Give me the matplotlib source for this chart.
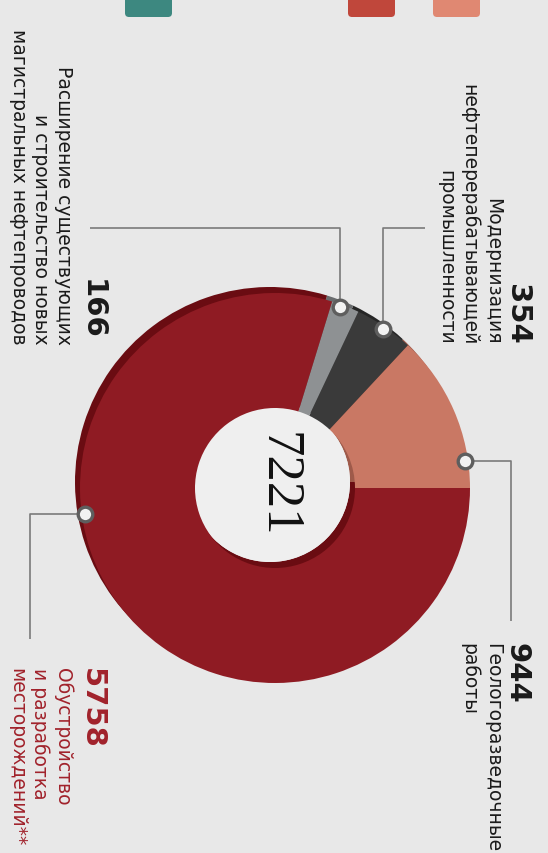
import numpy as np
import matplotlib.pyplot as plt
from matplotlib.patches import Circle, FancyBboxPatch

# Chart data (pie order: counter-clockwise from 3 o'clock)
labels = ['Геологоразведочные\nработы',
          'Модернизация\nнефтеперерабатывающей\nпромышленности',
          'Расширение существующих\nи строительство новых\nмагистральных нефтепроводов',
          'Обустройство\nи разработка\nместорождений**']
values = [944, 354, 166, 5758]
total_label = '7221'

front_colors = ['#c97864', '#3a3a3a', '#8e9193', '#8f1b23']
back_colors = ['#9e5a4a', '#262626', '#6a6c6e', '#6a0c12']
text_colors = ['#1a1a1a', '#1a1a1a', '#1a1a1a', '#a1222b']

W, H = 548, 854
def Y(y):
  # image pixel row -> data y (y axis points up)
  return H - y

fig = plt.figure(figsize=(W / 100, H / 100), dpi=100)
fig.patch.set_facecolor('#e8e8e8')
ax = fig.add_axes([0, 0, 1, 1])
ax.set_facecolor('#e8e8e8')

# Ring geometry in pixels
cx, cy = 275, Y(489)
R, r_in = 195, 80
off = (-5, 6)  # back layer shifted up-left for the 3D look

back_c = (cx + off[0], cy + off[1])
ax.pie(values, colors=back_colors, startangle=0, counterclock=True, radius=R,
       center=back_c, wedgeprops=dict(width=R - r_in, linewidth=0))
ax.add_patch(Circle(back_c, r_in, facecolor='#efefef', edgecolor='none', zorder=1.5))
wedges, _ = ax.pie(values, colors=front_colors, startangle=0, counterclock=True, radius=R,
                   center=(cx, cy), wedgeprops=dict(width=R - r_in, linewidth=0))
for w in wedges:
  w.set_zorder(2)

ax.text(cx + 2, Y(485), total_label, rotation=-90, rotation_mode='anchor',
        ha='center', va='center', fontsize=38, family='Liberation Serif',
        color='#111111', zorder=3)

# Leader layout: where the marker sits in its slice, and the elbow of the line
marker_frac = [0.17, 0.5, 0.65, 0.40]
leaders = [('h', 511, 622), ('v', 229, 425), ('v', 229, 90), ('h', 30, 640)]
num_pos = [(531, 643, 'left'), (531, 345, 'right'), (106, 340, 'right'), (106, 668, 'left')]
body_pos = [(502, 643), (502, 345), (73, 345), (73, 668)]

cum = np.cumsum(values)
total = cum[-1]
for i, v in enumerate(values):
  t1 = 360 * (cum[i] - v) / total
  t2 = 360 * cum[i] / total
  th = np.radians(t1 + marker_frac[i] * (t2 - t1))
  mx = cx + (R - 3) * np.cos(th)
  my = cy + (R - 3) * np.sin(th)
  kind, a, b = leaders[i]
  if kind == 'h':
    xs = [mx, a, a]
    ys = [my, my, Y(b)]
  else:
    xs = [mx, mx, b]
    ys = [my, Y(a), Y(a)]
  ax.plot(xs, ys, color='#7a7a7a', lw=1.2, zorder=4, solid_capstyle='butt')
  ax.plot(mx, my, 'o', ms=10.5, mfc='#f2f2f2', mec='#5e5e5e', mew=2.4, zorder=5)

  nx, ny, ha = num_pos[i]
  ax.text(nx, Y(ny), f'{v}', rotation=-90, rotation_mode='anchor', ha=ha, va='top',
          fontsize=21, fontweight='bold', family='DejaVu Sans', color=text_colors[i])
  bx, by = body_pos[i]
  ax.text(bx, Y(by), labels[i], rotation=-90, rotation_mode='anchor', ha=ha, va='top',
          multialignment=ha, fontsize=13.5, family='DejaVu Sans', color=text_colors[i],
          linespacing=1.25)

# Cut-off legend boxes at the top edge
for x0, col in [(125, '#3d8880'), (348, '#c0473b'), (433, '#e08872')]:
  ax.add_patch(FancyBboxPatch((x0 + 4, Y(14)), 39, 30, boxstyle='round,pad=4',
                              facecolor=col, edgecolor='none', zorder=2))

ax.set_xlim(0, W)
ax.set_ylim(0, H)
ax.set_aspect('equal')
ax.axis('off')
fig.savefig('out.png', dpi=100, facecolor=fig.get_facecolor())
